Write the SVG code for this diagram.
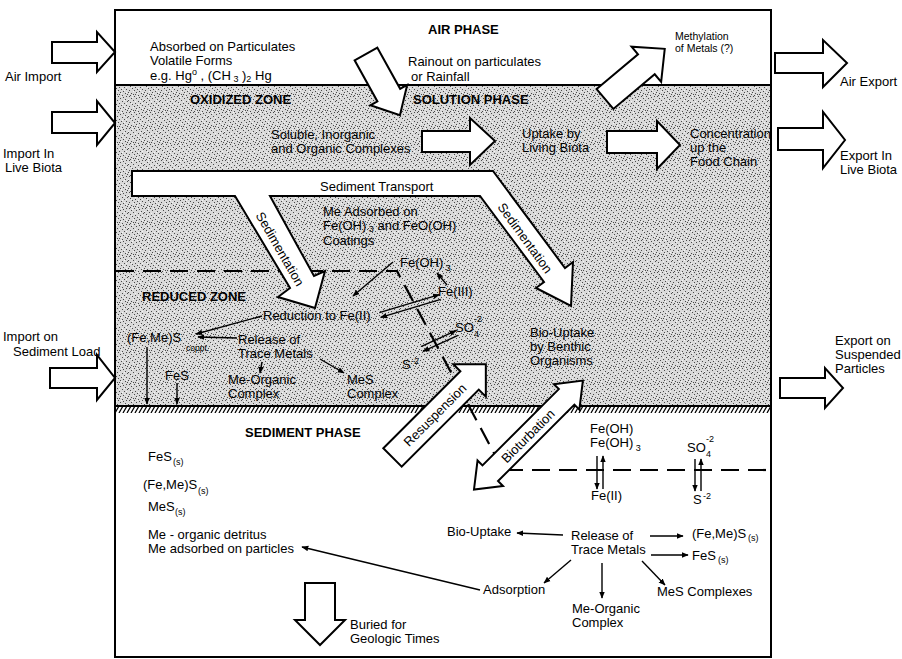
<svg xmlns="http://www.w3.org/2000/svg" width="902" height="659" viewBox="0 0 902 659">
<defs>
<style>
.t{font-family:"Liberation Sans",Arial,Helvetica,sans-serif;font-size:13px;fill:#000}
.b{font-weight:bold}
.sm{font-size:10.5px}
.sub{font-size:9px}
.blk{fill:#fff;stroke:#000;stroke-width:2;stroke-linejoin:miter}
.ln{fill:none;stroke:#000;stroke-width:1.4}
.dash{fill:none;stroke:#000;stroke-width:2.2;stroke-dasharray:18 9}
</style>
<pattern id="stip" width="16" height="16" patternUnits="userSpaceOnUse">
<rect width="16" height="16" fill="#d9d9d9"/>
<path d="M1 0h1v1h-1zM6 0h1v1h-1zM11 1h1v1h-1zM14 0h1v1h-1zM3 2h1v1h-1zM8 2h1v1h-1zM13 3h1v1h-1zM0 4h1v1h-1zM5 4h1v1h-1zM10 5h1v1h-1zM15 5h1v1h-1zM2 6h1v1h-1zM7 7h1v1h-1zM12 7h1v1h-1zM4 8h1v1h-1zM9 9h1v1h-1zM14 9h1v1h-1zM1 10h1v1h-1zM6 10h1v1h-1zM11 11h1v1h-1zM0 12h1v1h-1zM3 13h1v1h-1zM8 12h1v1h-1zM13 13h1v1h-1zM5 14h1v1h-1zM10 15h1v1h-1zM15 14h1v1h-1zM2 15h1v1h-1zM7 14h1v1h-1z" fill="#4a4a4a"/>
<path d="M9 0h1v1h-1zM4 1h1v1h-1zM0 3h1v1h-1zM12 4h1v1h-1zM7 5h1v1h-1zM3 7h1v1h-1zM14 7h1v1h-1zM10 8h1v1h-1zM5 11h1v1h-1zM12 10h1v1h-1zM1 13h1v1h-1zM9 13h1v1h-1zM14 12h1v1h-1zM4 15h1v1h-1z" fill="#f4f4f4"/>
</pattern>
<pattern id="hatch" width="4" height="7" patternUnits="userSpaceOnUse">
<path d="M-1,7 L3,0 M3,7 L7,0" stroke="#000" stroke-width="1.3"/>
</pattern>
<marker id="ah" viewBox="0 0 10 10" refX="9" refY="5" markerWidth="7" markerHeight="7" markerUnits="userSpaceOnUse" orient="auto-start-reverse">
<path d="M0,1 L10,5 L0,9 z" fill="#000"/>
</marker>
</defs>
<rect width="902" height="659" fill="#fff"/>

<g id="zones">
<rect x="116" y="86" width="654" height="320" fill="url(#stip)"/>
<rect x="116" y="407" width="654" height="6" fill="url(#hatch)"/>
<rect x="115" y="10" width="656" height="647" fill="none" stroke="#000" stroke-width="2"/>
<line x1="115" y1="85" x2="771" y2="85" stroke="#000" stroke-width="2"/>
<line x1="115" y1="406" x2="771" y2="406" stroke="#000" stroke-width="2"/>
</g>

<g id="redox-boundaries">
<path class="dash" d="M116,271 H397 L495,455"/>
<path class="dash" d="M505,470 H770"/>
</g>

<g id="flux-arrows">
<path id="air-import" class="blk" d="M52,42 H97 V32 L115,52 L97,72 V63 H52 Z"/>
<path id="import-live-biota" class="blk" d="M52,112 H97 V101 L115,123 L97,145 V133 H52 Z"/>
<path id="import-sediment" class="blk" d="M50,368 H97 V355 L115,378 L97,400 V388 H50 Z"/>
<path id="air-export" class="blk" d="M775,53 H823 V40 L847,63 L823,87 V73 H775 Z"/>
<path id="export-live-biota" class="blk" d="M778,128 H823 V112 L845,140 L823,168 V150 H778 Z"/>
<path id="export-suspended" class="blk" d="M780,378 H825 V368 L843,388 L825,408 V398 H780 Z"/>
<path id="rainout" class="blk" transform="translate(366,54) rotate(61)" d="M0,-13 H47 V-21 L70,0 L47,21 V13 H0 Z"/>
<path id="methylation" class="blk" transform="translate(605,99) rotate(-40)" d="M0,-13 H54 V-23 L78,0 L54,23 V13 H0 Z"/>
<path id="uptake-arrow" class="blk" d="M422,131 H470 V118 L495,141 L470,165 V152 H422 Z"/>
<path id="food-chain-arrow" class="blk" d="M607,131 H657 V121 L680,145 L657,169 V153 H607 Z"/>
<path id="sediment-transport" class="blk" d="M132,171 L493,171 L565,268 L573,262 L571,306 L536,288 L544,282 L480,196 L270,196 L314,276 L325,271 L315,308 L278,297 L290,288 L235,196 L132,196 Z"/>
<path id="resuspension" class="blk" transform="translate(392.5,457.5) rotate(-45)" d="M0,-13 H109 V-23 L132,0 L109,23 V13 H0 Z"/>
<path id="bioturbation" class="blk" transform="translate(474,489.5) rotate(-45)" d="M0,0 L23,-18 V-11 H131 V-18 L154,0 L131,18 V11 H23 V18 Z"/>
<path id="buried" class="blk" d="M305,583 H335 V620 H345 L320,645 L295,620 H305 Z"/>
</g>

<g id="connectors" class="ln">
<line x1="393" y1="262" x2="353" y2="296" marker-end="url(#ah)"/>
<line x1="447" y1="285" x2="437" y2="273" marker-end="url(#ah)"/>
<line x1="379.3" y1="312.6" x2="439.3" y2="294.6" marker-end="url(#ah)"/>
<line x1="380.7" y1="317.4" x2="440.7" y2="299.4" marker-start="url(#ah)"/>
<line x1="421" y1="346.7" x2="456" y2="330.7" marker-end="url(#ah)"/>
<line x1="423" y1="351.3" x2="458" y2="335.3" marker-start="url(#ah)"/>
<line x1="262" y1="316" x2="196" y2="334" marker-end="url(#ah)"/>
<line x1="237" y1="338" x2="198" y2="337" marker-end="url(#ah)"/>
<line x1="262" y1="362" x2="260" y2="373" marker-end="url(#ah)"/>
<line x1="320" y1="359" x2="344" y2="373" marker-end="url(#ah)"/>
<line x1="147" y1="347" x2="147" y2="404" marker-end="url(#ah)"/>
<line x1="177" y1="383" x2="177" y2="404" marker-end="url(#ah)"/>
<line x1="597" y1="456" x2="597" y2="489" marker-end="url(#ah)"/>
<line x1="603" y1="489" x2="603" y2="456" marker-end="url(#ah)"/>
<line x1="695" y1="459" x2="695" y2="491" marker-end="url(#ah)"/>
<line x1="701" y1="491" x2="701" y2="459" marker-end="url(#ah)"/>
<line x1="480" y1="590" x2="302" y2="547" marker-end="url(#ah)"/>
<line x1="563" y1="535" x2="517" y2="533" marker-end="url(#ah)"/>
<line x1="650" y1="536" x2="683" y2="536" marker-end="url(#ah)"/>
<line x1="651" y1="555" x2="688" y2="555" marker-end="url(#ah)"/>
<line x1="571" y1="560" x2="544" y2="583" marker-end="url(#ah)"/>
<line x1="602" y1="563" x2="602" y2="598" marker-end="url(#ah)"/>
<line x1="642" y1="561" x2="665" y2="585" marker-end="url(#ah)"/>
</g>

<g class="t">
<g id="n-air-phase"><text class="b" x="428" y="34">AIR PHASE</text></g>
<g id="n-absorbed"><text x="150" y="51">Absorbed on Particulates</text><text x="150" y="65">Volatile Forms</text><text x="150" y="80">e.g. Hg<tspan class="sub" dy="-5">o</tspan><tspan dy="5"> , (CH</tspan><tspan class="sub" dy="2"> 3</tspan><tspan dy="-2"> )</tspan><tspan class="sub" dy="2">2</tspan><tspan dy="-2"> Hg</tspan></text></g>
<g id="n-rainout"><text x="408" y="66">Rainout on particulates</text><text x="411" y="81">or Rainfall</text></g>
<g id="n-methylation"><text class="sm" x="675" y="40">Methylation</text><text class="sm" x="675" y="52">of Metals (?)</text></g>
<g id="n-air-import"><text x="5" y="81">Air Import</text></g>
<g id="n-import-biota"><text x="3" y="158">Import In</text><text x="5" y="172">Live Biota</text></g>
<g id="n-import-sediment"><text x="3" y="341">Import on</text><text x="13" y="356">Sediment Load</text></g>
<g id="n-air-export"><text x="840" y="86">Air Export</text></g>
<g id="n-export-biota"><text x="840" y="160">Export In</text><text x="840" y="174">Live Biota</text></g>
<g id="n-export-suspended"><text x="835" y="345">Export on</text><text x="835" y="359">Suspended</text><text x="835" y="373">Particles</text></g>
<g id="n-oxidized"><text class="b" x="190" y="104">OXIDIZED ZONE</text></g>
<g id="n-solution"><text class="b" x="413" y="104">SOLUTION PHASE</text></g>
<g id="n-soluble"><text x="271" y="139">Soluble, Inorganic</text><text x="271" y="153">and Organic Complexes</text></g>
<g id="n-uptake"><text x="522" y="138">Uptake by</text><text x="522" y="152">Living Biota</text></g>
<g id="n-concentration"><text x="690" y="138">Concentration</text><text x="690" y="152">up the</text><text x="690" y="166">Food Chain</text></g>
<g id="n-sed-transport"><text x="320" y="191">Sediment Transport</text></g>
<g id="n-sedimentation-1"><text transform="translate(280,249) rotate(60)" text-anchor="middle" dominant-baseline="central">Sedimentation</text></g>
<g id="n-sedimentation-2"><text transform="translate(525,238) rotate(54)" text-anchor="middle" dominant-baseline="central">Sedimentation</text></g>
<g id="n-me-adsorbed"><text x="323" y="216">Me Adsorbed on</text><text x="323" y="230">Fe(OH)<tspan class="sub" dy="2"> 3</tspan><tspan dy="-2"> and FeO(OH)</tspan></text><text x="323" y="245">Coatings</text></g>
<g id="n-feoh3"><text x="400" y="267">Fe(OH)<tspan class="sub" dy="4"> 3</tspan></text></g>
<g id="n-fe3"><text x="438" y="296">Fe(III)</text></g>
<g id="n-so4"><text x="455" y="332">SO</text><text class="sub" x="474" y="337">4</text><text class="sub" x="474" y="322">-2</text></g>
<g id="n-s2"><text x="402" y="369">S</text><text class="sub" x="411" y="364">-2</text></g>
<g id="n-reduced"><text class="b" x="142" y="301">REDUCED ZONE</text></g>
<g id="n-reduction"><text x="263" y="320">Reduction to Fe(II)</text></g>
<g id="n-femes-coppt"><text x="127" y="342">(Fe,Me)S</text><text x="186" y="351" font-size="8.5">coppt.</text></g>
<g id="n-release-1"><text x="238" y="344">Release of</text><text x="238" y="358">Trace Metals</text></g>
<g id="n-fes"><text x="165" y="380">FeS</text></g>
<g id="n-me-organic-1"><text x="228" y="384">Me-Organic</text><text x="228" y="398">Complex</text></g>
<g id="n-mes-1"><text x="347" y="384">MeS</text><text x="347" y="398">Complex</text></g>
<g id="n-bio-benthic"><text x="530" y="337">Bio-Uptake</text><text x="530" y="351">by Benthic</text><text x="530" y="365">Organisms</text></g>
<g id="n-resuspension"><text transform="translate(435,415) rotate(-45)" text-anchor="middle" dominant-baseline="central">Resuspension</text></g>
<g id="n-bioturbation"><text transform="translate(528,436) rotate(-45)" text-anchor="middle" dominant-baseline="central">Bioturbation</text></g>
<g id="n-sediment-phase"><text class="b" x="245" y="437">SEDIMENT PHASE</text></g>
<g id="n-fes-s"><text x="148" y="461">FeS</text><text class="sub" x="173" y="465">(s)</text></g>
<g id="n-femes-s"><text x="143" y="489">(Fe,Me)S</text><text class="sub" x="198" y="494">(s)</text></g>
<g id="n-mes-s"><text x="148" y="511">MeS</text><text class="sub" x="175" y="515">(s)</text></g>
<g id="n-detritus"><text x="148" y="539">Me - organic detritus</text><text x="148" y="553">Me adsorbed on particles</text></g>
<g id="n-buried"><text x="350" y="629">Buried for</text><text x="350" y="643">Geologic Times</text></g>
<g id="n-feoh-sed"><text x="590" y="433">Fe(OH)</text><text x="590" y="447">Fe(OH)<tspan class="sub" dy="4"> 3</tspan></text></g>
<g id="n-fe2-sed"><text x="591" y="500">Fe(II)</text></g>
<g id="n-so4-sed"><text x="687" y="452">SO</text><text class="sub" x="706" y="457">4</text><text class="sub" x="706" y="442">-2</text></g>
<g id="n-s2-sed"><text x="693" y="504">S</text><text class="sub" x="703" y="499">-2</text></g>
<g id="n-bio-uptake"><text x="447" y="536">Bio-Uptake</text></g>
<g id="n-release-2"><text x="571" y="540">Release of</text><text x="571" y="554">Trace Metals</text></g>
<g id="n-femes-s2"><text x="692" y="538">(Fe,Me)S</text><text class="sub" x="748" y="541">(s)</text></g>
<g id="n-fes-s2"><text x="692" y="560">FeS</text><text class="sub" x="718" y="563">(s)</text></g>
<g id="n-adsorption"><text x="483" y="594">Adsorption</text></g>
<g id="n-me-organic-2"><text x="572" y="613">Me-Organic</text><text x="572" y="627">Complex</text></g>
<g id="n-mes-complexes"><text x="657" y="596">MeS Complexes</text></g>
</g>
</svg>
